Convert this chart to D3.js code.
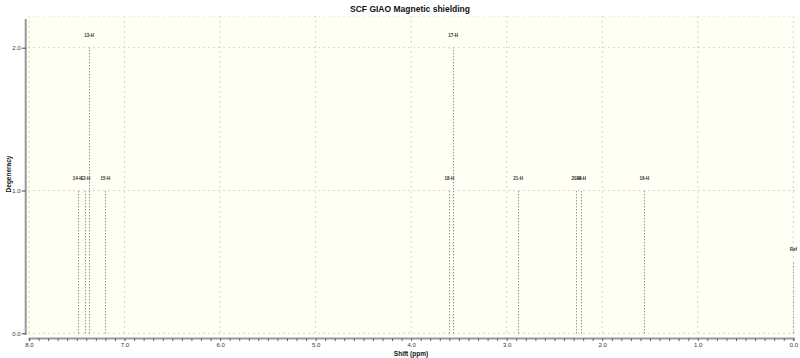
<!DOCTYPE html>
<html>
<head>
<meta charset="utf-8">
<script src="https://cdn.jsdelivr.net/npm/d3@7"></script>
<style>
  body { margin: 0; background: #fff; }
  text { font-family: "Liberation Sans", Arial, sans-serif; }
</style>
</head>
<body>
<div id="container"></div>
<script>
// peaks
let labels = ["14-H", "12-H", "13-H", "15-H", "18-H", "17-H", "21-H", "20-H", "19-H", "16-H", "Ref"];
let shifts = [7.49, 7.41, 7.37, 7.20, 3.60, 3.56, 2.88, 2.27, 2.22, 1.56, 0.0];
let degeneracy = [1, 1, 2, 1, 1, 2, 1, 1, 1, 1, 0.5];
let xTicks = [8.0, 7.0, 6.0, 5.0, 4.0, 3.0, 2.0, 1.0, 0.0];
let yTicks = [0.0, 1.0, 2.0];

let w = 800;
let h = 358;

let viz = d3.select("#container")
    .append("svg")
    .attr("width", w)
    .attr("height", h)
;

// scales
let xScale = d3.scaleLinear().domain([8.0, 0.0]).range([29, 793.3]);
let yScale = d3.scaleLinear().domain([0, 2.0]).range([333.3, 47.7]);

// plot background
viz.append("rect")
    .attr("x", 28)
    .attr("y", 16)
    .attr("width", 770)
    .attr("height", 320)
    .attr("fill", "#fffff4")
;

// grid
viz.append("g").selectAll("line")
    .data(xTicks)
    .join("line")
    .attr("x1", d => xScale(d))
    .attr("x2", d => xScale(d))
    .attr("y1", 16)
    .attr("y2", 336)
    .attr("stroke", "#d4d4d4")
    .attr("stroke-width", 1)
    .attr("stroke-dasharray", "2,3")
;
viz.append("g").selectAll("line")
    .data(yTicks)
    .join("line")
    .attr("x1", 28)
    .attr("x2", 798)
    .attr("y1", d => yScale(d))
    .attr("y2", d => yScale(d))
    .attr("stroke", "#d4d4d4")
    .attr("stroke-width", 1)
    .attr("stroke-dasharray", "2,3")
;
// top border, faint
viz.append("line")
    .attr("x1", 28).attr("x2", 798).attr("y1", 16.5).attr("y2", 16.5)
    .attr("stroke", "#eeeee4").attr("stroke-dasharray", "2,3");

// peaks
let peaks = viz.append("g").selectAll("g")
    .data(labels)
    .join("g")
;
peaks.append("line")
    .attr("x1", (d, i) => Math.round(xScale(shifts[i])) + 0.5)
    .attr("x2", (d, i) => Math.round(xScale(shifts[i])) + 0.5)
    .attr("y1", yScale(0))
    .attr("y2", (d, i) => yScale(degeneracy[i]))
    .attr("stroke", d => d === "Ref" ? "#7080c8" : "#666")
    .attr("stroke-width", 1)
    .attr("stroke-dasharray", "1,2")
;
peaks.append("text")
    .attr("x", (d, i) => xScale(shifts[i]))
    .attr("y", (d, i) => yScale(degeneracy[i]) - 11)
    .attr("text-anchor", "middle")
    .attr("font-size", 4.5)
    .attr("font-weight", "bold")
    .attr("fill", "#333")
    .text(d => d)
;

// x axis
let xAxis = d3.axisBottom(xScale)
    .tickValues(d3.range(0, 80.5, 1).map(d => d / 10))
    .tickSize(3)
    .tickFormat(d => Math.abs(d * 10 - Math.round(d) * 10) < 0.01 ? d.toFixed(1) : "");
let xAxisGroup = viz.append("g")
    .attr("transform", "translate(0,338)")
    .call(xAxis);
xAxisGroup.select(".domain").attr("stroke", "#999").attr("stroke-width", 2);
xAxisGroup.selectAll(".tick line").attr("stroke", "#666");
xAxisGroup.selectAll("text")
    .attr("font-size", 6)
    .attr("fill", "#333")
    .attr("y", 4.5);

// y axis
let yAxis = d3.axisLeft(yScale)
    .tickValues(yTicks)
    .tickSize(4)
    .tickFormat(d => d.toFixed(1));
let yAxisGroup = viz.append("g")
    .attr("transform", "translate(25.7,0)")
    .call(yAxis);
yAxisGroup.select(".domain")
    .attr("d", "M0,19V335")
    .attr("stroke", "#999")
    .attr("stroke-width", 2);
yAxisGroup.selectAll(".tick line").attr("stroke", "#444");
yAxisGroup.selectAll("text")
    .attr("font-size", 6)
    .attr("fill", "#333")
    .attr("x", -5);

// titles
viz.append("text")
    .attr("x", 410)
    .attr("y", 12)
    .attr("text-anchor", "middle")
    .attr("font-size", 8.5)
    .attr("font-weight", "bold")
    .attr("fill", "#111")
    .text("SCF GIAO Magnetic shielding")
;
viz.append("text")
    .attr("x", 411)
    .attr("y", 356)
    .attr("text-anchor", "middle")
    .attr("font-size", 6.5)
    .attr("font-weight", "bold")
    .attr("fill", "#111")
    .text("Shift (ppm)")
;
viz.append("text")
    .attr("transform", "translate(11,174) rotate(-90)")
    .attr("text-anchor", "middle")
    .attr("font-size", 6.5)
    .attr("font-weight", "bold")
    .attr("fill", "#111")
    .text("Degeneracy")
;
</script>
</body>
</html>
